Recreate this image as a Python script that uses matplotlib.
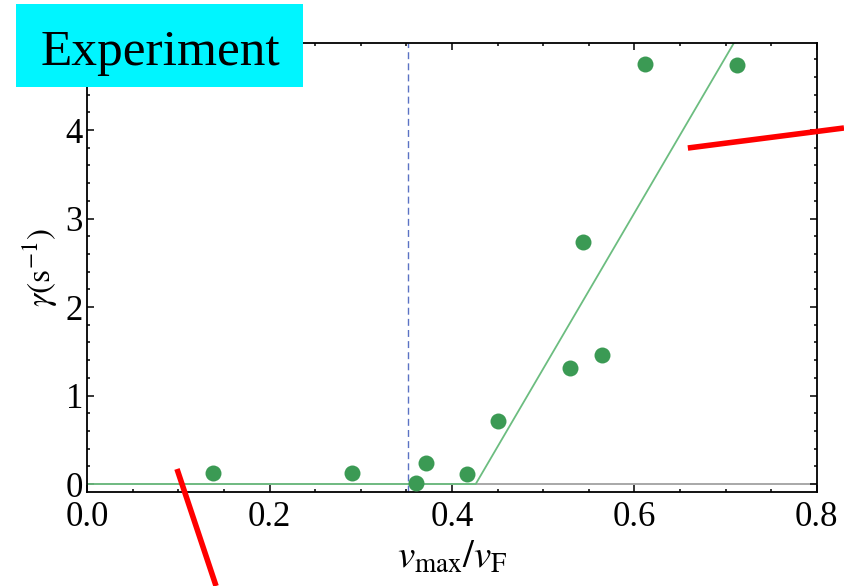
import matplotlib
matplotlib.use("Agg")
import matplotlib.pyplot as plt
from matplotlib.lines import Line2D
from matplotlib.patches import Rectangle
from matplotlib.ticker import MultipleLocator, FixedLocator
import numpy as np

plt.rcParams['font.family'] = ['Liberation Serif', 'DejaVu Serif']
plt.rcParams['mathtext.fontset'] = 'stix'

# measured damping rates
v_ratio = [0.138, 0.290, 0.361, 0.372, 0.416, 0.450, 0.529, 0.544, 0.565, 0.612, 0.713]
gamma = [0.13, 0.13, 0.015, 0.24, 0.11, 0.71, 1.31, 2.74, 1.46, 4.75, 4.73]

# piecewise-linear fit: zero below threshold, linear above
fit_threshold = 0.426
fit_slope = 17.6
critical_ratio = 0.352

x_ticks = [0.0, 0.2, 0.4, 0.6, 0.8]
x_tick_labels = ["0.0", "0.2", "0.4", "0.6", "0.8"]
y_ticks = [0, 1, 2, 3, 4]
y_tick_labels = ["0", "1", "2", "3", "4"]

fig = plt.figure(figsize=(8.44, 5.86), dpi=100)
ax = fig.add_axes([0.1034, 0.1609, 0.8643, 0.7652])

xlim = (0.0, 0.8)
ylim = (-0.087, 4.98)

# horizontal reference at zero
ax.axhline(0, color='#999999', lw=1.2, zorder=1)

# fit line
fit_x = np.array([0.0, fit_threshold, fit_threshold + ylim[1] / fit_slope + 0.02])
fit_y = np.maximum(0, fit_slope * (fit_x - fit_threshold))
ax.plot(fit_x, fit_y, color='#6cbd80', lw=1.3, zorder=2)

# critical velocity
ax.axvline(critical_ratio, color='#5b72c4', lw=1.0, ls=(0, (5, 3)), zorder=2)

ax.plot(v_ratio, gamma, 'o', ms=11.5, color='#3b9a54', mec='none', zorder=3)

ax.set_xlim(*xlim)
ax.set_ylim(*ylim)

ax.xaxis.set_major_locator(FixedLocator(x_ticks))
ax.set_xticklabels(x_tick_labels)
ax.xaxis.set_minor_locator(MultipleLocator(0.05))
ax.yaxis.set_major_locator(FixedLocator(y_ticks))
ax.set_yticklabels(y_tick_labels)
ax.yaxis.set_minor_locator(MultipleLocator(0.2))

ax.tick_params(which='both', direction='in', top=True, right=True, width=1.1, color='black')
ax.tick_params(which='major', length=5, labelsize=25)
ax.tick_params(axis='x', which='major', pad=7)
ax.tick_params(axis='y', which='major', pad=3)
ax.tick_params(which='minor', length=2.5)
for s in ax.spines.values():
    s.set_linewidth(1.3)

ax.set_xlabel(r'$v_{\rm max}/v_{\rm F}$', fontsize=28, labelpad=4)
ax.set_ylabel(r'$\gamma(\rm s^{-1})$', fontsize=24, labelpad=4)

# title box
fig.add_artist(Rectangle((0.019, 0.8515), 0.340, 0.1416, transform=fig.transFigure,
                         facecolor='#00f5ff', edgecolor='none', zorder=10))
fig.text(0.1896, 0.889, 'Experiment', fontsize=37, ha='center', va='baseline',
         color='black', zorder=11)

# red pointer strokes
fig.add_artist(Line2D([0.815, 1.0], [0.7474, 0.7816], transform=fig.transFigure,
                      color='#ff0000', lw=4, solid_capstyle='butt', zorder=12))
fig.add_artist(Line2D([0.2097, 0.256], [0.1997, 0.0], transform=fig.transFigure,
                      color='#ff0000', lw=4, solid_capstyle='butt', zorder=12))

fig.savefig('out.png', dpi=100)
